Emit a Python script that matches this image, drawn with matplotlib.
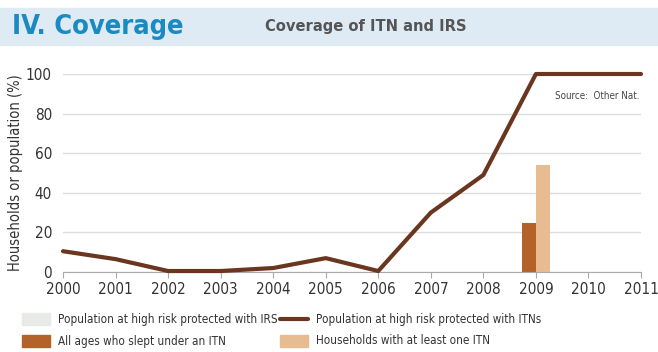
import numpy as np
import matplotlib.pyplot as plt
from matplotlib.patches import Rectangle
from matplotlib.lines import Line2D

plt.rcParams['font.family'] = ['DejaVu Sans']
plt.rcParams['font.stretch'] = 'condensed'

years = [2000, 2001, 2002, 2003, 2004, 2005, 2006, 2007, 2008, 2009, 2010, 2011]
itn_pop = [10.5, 6.5, 0.5, 0.5, 2, 7, 0.5, 30, 49, 100, 100, 100]
bar_year = [2009]
slept_itn = [25]
hh_itn = [54]

line_c = '#6b3620'
dark_c = '#b5622a'
light_c = '#e8bb90'
irs_c = '#e8eae8'

fig = plt.figure(figsize=(6.58, 3.52), dpi=100)

# header band
fig.patches.append(Rectangle((0, 1 - 45/352), 1, 37/352, transform=fig.transFigure,
                             color='#dfebf4', zorder=0))
fig.text(12/658, 1 - 27/352, 'IV. Coverage', color='#1a8ac0', fontsize=19.5,
         fontweight='bold', va='center')
fig.text(265/658, 1 - 27/352, 'Coverage of ITN and IRS', color='#555555', fontsize=11.8,
         fontweight='bold', va='center')

ax = fig.add_axes([63/658, 80/352, 578/658, 198/352])
bx = np.array(bar_year)
ax.bar(bx - 0.135, slept_itn, width=0.27, color=dark_c, zorder=2)
ax.bar(bx + 0.135, hh_itn, width=0.27, color=light_c, zorder=2)
ax.plot(years, itn_pop, color=line_c, lw=3, solid_capstyle='round', zorder=3, clip_on=False)

ax.set_xlim(2000, 2011)
ax.set_ylim(0, 100)
ax.set_xticks(years)
ax.set_yticks([0, 20, 40, 60, 80, 100])
ax.yaxis.grid(True, color='#dddddd', lw=1)
ax.set_axisbelow(True)
for s in ['top', 'right', 'left']:
    ax.spines[s].set_visible(False)
ax.spines['bottom'].set_color('#aaaaaa')
ax.tick_params(axis='x', colors='#aaaaaa', labelcolor='#333333', labelsize=11, length=4)
ax.tick_params(axis='y', length=0, labelcolor='#333333', labelsize=11, pad=8)
ax.set_ylabel('Households or population (%)', fontsize=10.5, color='#333333', labelpad=2)
ax.text(0.998, 0.89, 'Source:  Other Nat.', transform=ax.transAxes, ha='right',
        va='center', fontsize=7, color='#444444')

# legend
def fy(y):
    return 1 - y/352

fig.patches.append(Rectangle((22/658, fy(325)), 28/658, 12/352, transform=fig.transFigure, color=irs_c))
fig.patches.append(Rectangle((22/658, fy(347)), 28/658, 12/352, transform=fig.transFigure, color=dark_c))
fig.patches.append(Rectangle((280/658, fy(347)), 28/658, 12/352, transform=fig.transFigure, color=light_c))
fig.lines.append(Line2D([280/658, 308/658], [fy(319), fy(319)], transform=fig.transFigure,
                        color=line_c, lw=3, solid_capstyle='round'))
lab = dict(fontsize=8.4, color='#333333', va='center')
fig.text(58/658, fy(319), 'Population at high risk protected with IRS', **lab)
fig.text(58/658, fy(341), 'All ages who slept under an ITN', **lab)
fig.text(316/658, fy(319), 'Population at high risk protected with ITNs', **lab)
fig.text(316/658, fy(341), 'Households with at least one ITN', **lab)

fig.savefig('out.png', dpi=100)
